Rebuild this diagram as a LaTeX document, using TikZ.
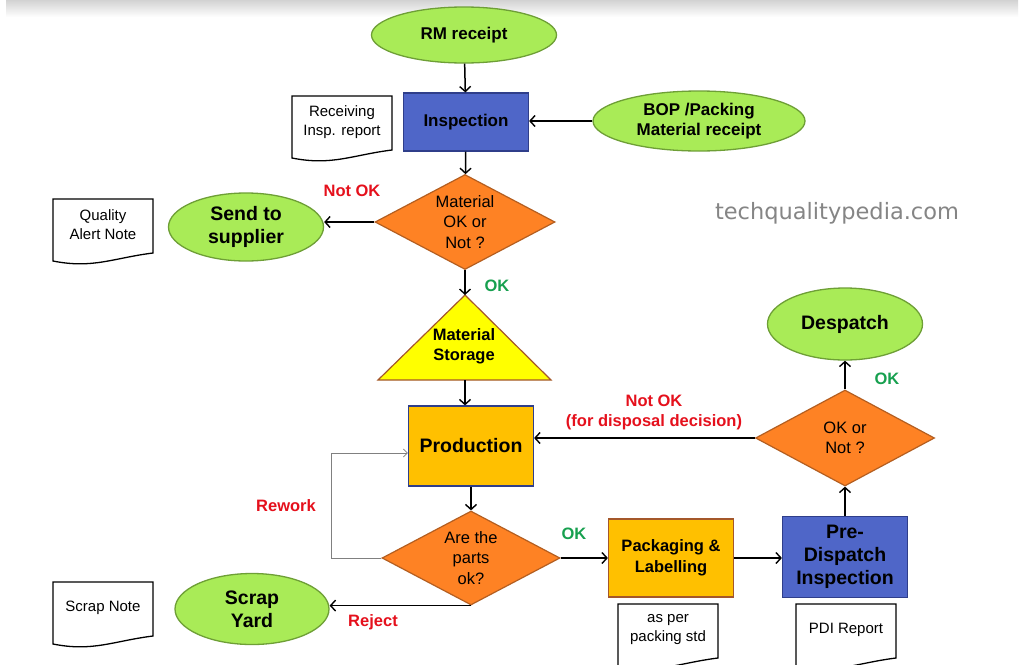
\documentclass[tikz,border=0pt]{standalone}
\usepackage{fontspec}
\setmainfont{Liberation Sans}
\newfontfamily\wmfont{DejaVu Sans}
\usetikzlibrary{shapes.geometric,arrows.meta,calc}
\definecolor{egreen}{HTML}{A9EB57}
\definecolor{egreenD}{HTML}{6E9F36}
\definecolor{pblue}{HTML}{4F66C8}
\definecolor{pblueD}{HTML}{2F3E8A}
\definecolor{dorange}{HTML}{FE8224}
\definecolor{dorangeD}{HTML}{B45E20}
\definecolor{pyellow}{HTML}{FFC000}
\definecolor{pbrown}{HTML}{A4572A}
\definecolor{tyellow}{HTML}{FFFF00}
\definecolor{lred}{HTML}{E5101C}
\definecolor{lgreen}{HTML}{17A04F}
\definecolor{wmgray}{HTML}{858585}
\newcommand\docbox[4]{%
  \node[doctext] (#1) at (#2,#3) {#4};
  \draw[docline] ($(#1)+(-50,-26)$) -- ($(#1)+(50,-26)$) -- ($(#1)+(50,28)$)
    .. controls +(-40,5) and +(40,8) .. ($(#1)+(-50,36)$) -- cycle;}
\begin{document}
\begin{tikzpicture}[x=1pt,y=-1pt,
  term/.style={ellipse, draw=egreenD, fill=egreen, line width=1.3pt, inner sep=0pt, align=center},
  tsm/.style={term, font=\fontsize{17}{19.5}\selectfont\bfseries},
  tlg/.style={term, font=\fontsize{19.5}{23}\selectfont\bfseries},
  bluebox/.style={rectangle, draw=pblueD, fill=pblue, line width=1.2pt, inner sep=0pt, align=center},
  yelbox/.style={rectangle, fill=pyellow, line width=1.2pt, inner sep=0pt, align=center},
  decide/.style={diamond, draw=dorangeD, fill=dorange, line width=1.2pt, inner sep=0pt, aspect=1.9,
     align=center, font=\fontsize{16.5}{20.5}\selectfont},
  doctext/.style={inner sep=0pt, align=center, font=\fontsize{15}{19}\selectfont},
  docline/.style={draw=black, line width=1.3pt},
  arr/.style={draw=black, line width=1.5pt, -{Straight Barb[length=5pt,width=11pt,line width=1.4pt]}},
  thinarr/.style={draw=gray, line width=0.8pt, -{Straight Barb[length=4pt,width=8pt,line width=0.8pt]}},
  redlbl/.style={text=lred, font=\fontsize{16.5}{20}\selectfont\bfseries, align=center},
  grnlbl/.style={text=lgreen, font=\fontsize{16.5}{20}\selectfont\bfseries}
]
\useasboundingbox (0,0) rectangle (1024,664);
\fill[white] (0,0) rectangle (1024,664);
\shade[top color=gray!35, bottom color=white] (6,0) rectangle (1018,17);

% nodes
\node[tsm, minimum width=185, minimum height=56] (rm) at (464,35) {RM receipt};
\node[bluebox, minimum width=125, minimum height=58, font=\fontsize{17}{19.5}\selectfont\bfseries] (insp) at (466,122) {Inspection};
\node[tsm, minimum width=212, minimum height=60] (bop) at (699,121) {BOP /Packing\\Material receipt};
\node[decide, minimum width=180, minimum height=95] (d1) at (465,222) {Material\\OK or\\Not ?};
\node[tlg, minimum width=155, minimum height=68] (sup) at (246,227) {Send to\\supplier};

% storage triangle
\coordinate (storTop) at (465,295);
\coordinate (storBot) at (465,380);
\draw[draw=pbrown, fill=tyellow, line width=1.2pt] (storTop) -- (551,380) -- (378,380) -- cycle;
\node[align=center, font=\fontsize{16.5}{20}\selectfont\bfseries] (stor) at (464,346) {Material\\Storage};

\node[yelbox, draw=pblueD, minimum width=125, minimum height=80, font=\fontsize{19.5}{23}\selectfont\bfseries] (prod) at (471,446) {Production};
\node[decide, minimum width=178, minimum height=94] (d2) at (471,558) {Are the\\parts\\ok?};
\node[tlg, minimum width=154, minimum height=71] (scrap) at (252,609) {Scrap\\Yard};
\node[yelbox, draw=pbrown, minimum width=125, minimum height=78, font=\fontsize{16.5}{20.5}\selectfont\bfseries] (pack) at (671,558) {Packaging \&\\Labelling};
\node[bluebox, minimum width=125, minimum height=81, font=\fontsize{19.5}{23}\selectfont\bfseries] (pdi) at (845,557) {Pre-\\Dispatch\\Inspection};
\node[decide, minimum width=179, minimum height=96] (d3) at (845,438) {OK or\\Not ?};
\node[tlg, minimum width=155, minimum height=72] (desp) at (845,324) {Despatch};

% documents
\docbox{rir}{342}{122}{Receiving\\Insp. report}
\docbox{qan}{103}{225}{Quality\\Alert Note}
\docbox{sn}{103}{608}{Scrap Note}
\docbox{aps}{668}{630}{as per\\packing std}
\docbox{pdir}{846}{630}{PDI Report}

% watermark
\node[text=wmgray, font=\wmfont\fontsize{22.5}{26}\selectfont] (wm) at (837,213) {techqualitypedia.com};

% connectors
\draw[arr] (rm) -- (insp);
\draw[arr] (bop.west) -- (bop.west -| insp.east);
\draw[arr] (insp) -- (d1);
\draw[arr] (d1.west) -- (d1.west -| sup.east);
\draw[arr] (d1.south) -- (storTop);
\draw[arr] (storBot) -- (storBot |- prod.north);
\draw[arr] (prod) -- (d2);
\draw[thinarr] (d2.west) -- ++(-50,0) |- ($(prod.west)+(0,7)$);
\draw[arr] (d2.south) -- (d2.south -| scrap.east);
\draw[arr] (d2.east) -- (pack.west);
\draw[arr] (pack.east) -- (pack.east -| pdi.west);
\draw[arr] (pdi) -- (d3);
\draw[arr] (d3) -- (desp);
\draw[arr] (d3.west) -- (d3.west -| prod.east);

% labels
\node[redlbl] (l1) at (352,191) {Not OK};
\node[grnlbl] (l2) at (497,286) {OK};
\node[redlbl] (l3) at (654,412) {Not OK\\(for disposal decision)};
\node[grnlbl] (l4) at (887,379) {OK};
\node[redlbl] (l5) at (286,506) {Rework};
\node[grnlbl] (l6) at (574,534) {OK};
\node[redlbl] (l7) at (373,622) {Reject};
\end{tikzpicture}
\end{document}
